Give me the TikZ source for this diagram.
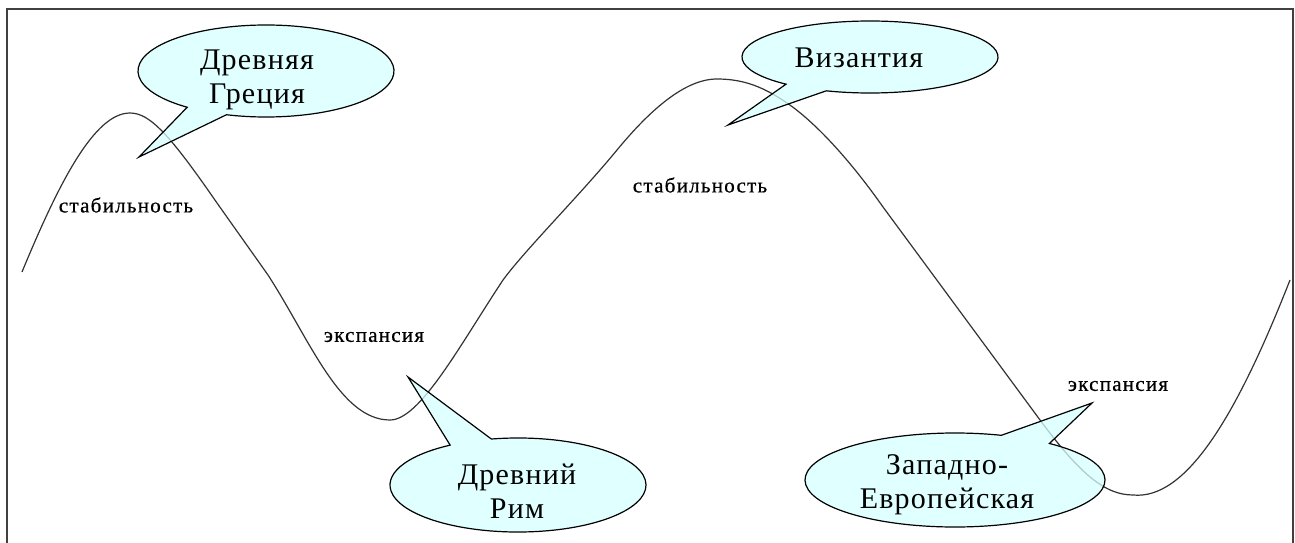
\documentclass[tikz,border=0pt]{standalone}
\usepackage{fontspec}
\setmainfont{Liberation Serif}
\newfontfamily\bigfont[LetterSpace=4]{Liberation Serif}
\newfontfamily\smallfont[LetterSpace=6,FakeBold=0.6]{Liberation Serif}
\definecolor{balloon}{RGB}{214,255,255}
\definecolor{framegray}{RGB}{64,64,64}
\tikzset{
  bigtxt/.style={inner sep=0pt, align=center, font=\bigfont\fontsize{30}{34}\selectfont},
  smalltxt/.style={inner sep=0pt, font=\smallfont\fontsize{21}{24}\selectfont},
  balloonshape/.style={draw=black, line width=1.2pt, fill=balloon, fill opacity=0.75, line join=miter},
  wave/.style={draw=black!80, line width=1.2pt},
  frameline/.style={draw=framegray, line width=2pt}
}
\begin{document}
\begin{tikzpicture}[x=1pt, y=-1pt]
\useasboundingbox (0,0) rectangle (1295,543);
\fill[white] (0,0) rectangle (1295,543);
% frame
\draw[frameline] (7,543) -- (7,9) -- (1293,9) -- (1293,543);
% wave
\draw[wave] (22,272) .. controls (60,180) and (95,113) .. (130,113)
  .. controls (150,113) and (170,135) .. (217,203)
  -- (268,275)
  .. controls (310,340) and (340,420) .. (390,420)
  .. controls (420,420) and (460,345) .. (503,280)
  .. controls (525,250) and (580,195) .. (617,150)
  .. controls (650,110) and (685,79) .. (717,79)
  .. controls (745,79) and (765,88) .. (787,103)
  .. controls (815,122) and (850,160) .. (883,207)
  -- (1040,420)
  .. controls (1080,474) and (1105,495) .. (1133,495)
  .. controls (1185,500) and (1235,420) .. (1290,280);
% balloons
\coordinate (c1) at (266,71);
\coordinate (t1) at (139,157);
\path[balloonshape] (c1) ++(128:128 and 46) arc[start angle=128, end angle=468, x radius=128, y radius=46] -- (t1) -- cycle;
\coordinate (c2) at (518,485);
\coordinate (t2) at (408,377);
\path[balloonshape] (c2) ++(258:128 and 47) arc[start angle=258, end angle=598, x radius=128, y radius=47] -- (t2) -- cycle;
\coordinate (c3) at (870,57);
\coordinate (t3) at (728,125);
\path[balloonshape] (c3) ++(131:128 and 36) arc[start angle=131, end angle=470, x radius=128, y radius=36] -- (t3) -- cycle;
\coordinate (c4) at (955,480);
\coordinate (t4) at (1092,403);
\path[balloonshape] (c4) ++(309:150 and 47) arc[start angle=309, end angle=648, x radius=150, y radius=47] -- (t4) -- cycle;
% balloon texts
\node[bigtxt] (greece) at (257,80) {Древняя\\Греция};
\node[bigtxt] (rome) at (517,491) {Древний\\Рим};
\node[bigtxt] (byz) at (859,58) {Византия};
\node[bigtxt] (west) at (947,485) {Западно-\\Европейская};
% labels
\node[smalltxt] (stab1) at (126,205) {стабильность};
\node[smalltxt] (exp1) at (374,337) {экспансия};
\node[smalltxt] (stab2) at (700,185) {стабильность};
\node[smalltxt] (exp2) at (1118,386) {экспансия};
\end{tikzpicture}
\end{document}
